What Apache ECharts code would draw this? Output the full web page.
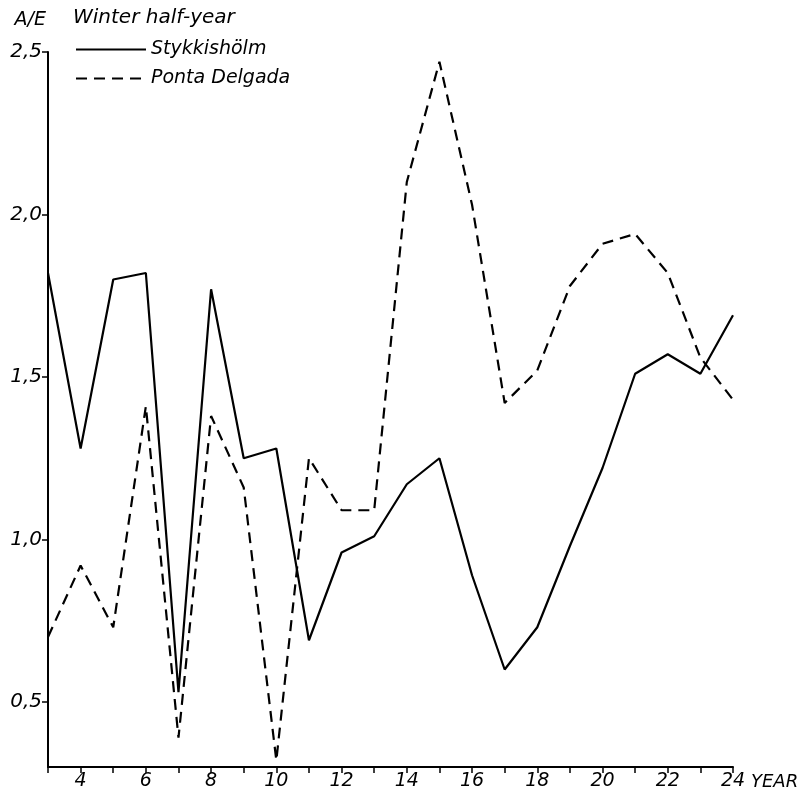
<!DOCTYPE html>
<html>
<head>
<meta charset="utf-8">
<script src="https://cdn.jsdelivr.net/npm/echarts@6/dist/echarts.min.js"></script>
<style>html,body{margin:0;padding:0;background:#fff}#c{width:811px;height:799px}</style>
</head>
<body>
<div id="c"></div>
<script>
const years = [3,4,5,6,7,8,9,10,11,12,13,14,15,16,17,18,19,20,21,22,23,24];
const stykkisholm = [1.82,1.28,1.80,1.82,0.53,1.77,1.25,1.28,0.69,0.96,1.01,1.17,1.25,0.89,0.60,0.73,0.98,1.22,1.51,1.57,1.51,1.69];
const pontaDelgada = [0.70,0.92,0.73,1.41,0.39,1.38,1.16,0.32,1.25,1.09,1.09,2.10,2.47,2.03,1.42,1.52,1.78,1.91,1.94,1.82,1.56,1.43];
const yTicks = [0.5,1.0,1.5,2.0,2.5];
const xLabels = [4,6,8,10,12,14,16,18,20,22,24];

const font = '"DejaVu Sans", sans-serif';
const chart = echarts.init(document.getElementById('c'));
chart.setOption({
  animation: false,
  backgroundColor: '#fff',
  title: {
    text: 'Winter half-year', left: 68, top: 3,
    textStyle: {fontFamily: font, fontStyle: 'italic', fontWeight: 'normal', fontSize: 20, color: '#000'}
  },
  legend: {
    orient: 'vertical', left: 70, top: 35, itemWidth: 70, itemHeight: 10, itemGap: 10,
    itemStyle: {opacity: 0},
    textStyle: {fontFamily: font, fontStyle: 'italic', fontSize: 19, color: '#000'},
    data: ['Stykkishölm', 'Ponta Delgada']
  },
  grid: {left: 48, right: 78, top: 52, bottom: 32, containLabel: false},
  xAxis: {
    type: 'value', min: 3, max: 24, interval: 1,
    name: 'YEAR', nameLocation: 'end', nameGap: 0,
    nameTextStyle: {fontFamily: font, fontStyle: 'italic', fontSize: 18, color: '#000', verticalAlign: 'top', align: 'left', padding: [6,0,0,0]},
    axisLine: {lineStyle: {color: '#000', width: 2}},
    axisTick: {show: true, length: 6, lineStyle: {color: '#000', width: 1.5}},
    axisLabel: {customValues: xLabels, formatter: v => String(v), fontFamily: font, fontStyle: 'italic', fontSize: 19, color: '#000', margin: 5},
    splitLine: {show: false}
  },
  yAxis: {
    type: 'value', min: 0.3, max: 2.5,
    name: 'A/E', nameLocation: 'end', nameGap: 22,
    nameTextStyle: {fontFamily: font, fontStyle: 'italic', fontSize: 19, color: '#000', align: 'right', padding: [0,2,0,0]},
    axisLine: {show: true, lineStyle: {color: '#000', width: 2}},
    axisTick: {show: true, customValues: yTicks, length: 6, lineStyle: {color: '#000', width: 1.5}},
    axisLabel: {customValues: yTicks, formatter: v => v.toFixed(1).replace('.', ','), fontFamily: font, fontStyle: 'italic', fontSize: 20, color: '#000', margin: 6},
    splitLine: {show: false}
  },
  series: [
    {name: 'Stykkishölm', type: 'line', symbol: 'none', data: years.map((y,i) => [y, stykkisholm[i]]),
     lineStyle: {color: '#000', width: 2.2, type: 'solid'}, itemStyle: {color: '#000'}},
    {name: 'Ponta Delgada', type: 'line', symbol: 'none', data: years.map((y,i) => [y, pontaDelgada[i]]),
     lineStyle: {color: '#000', width: 2.2, type: [11, 7]}, itemStyle: {color: '#000'}}
  ]
});
</script>
</body>
</html>
